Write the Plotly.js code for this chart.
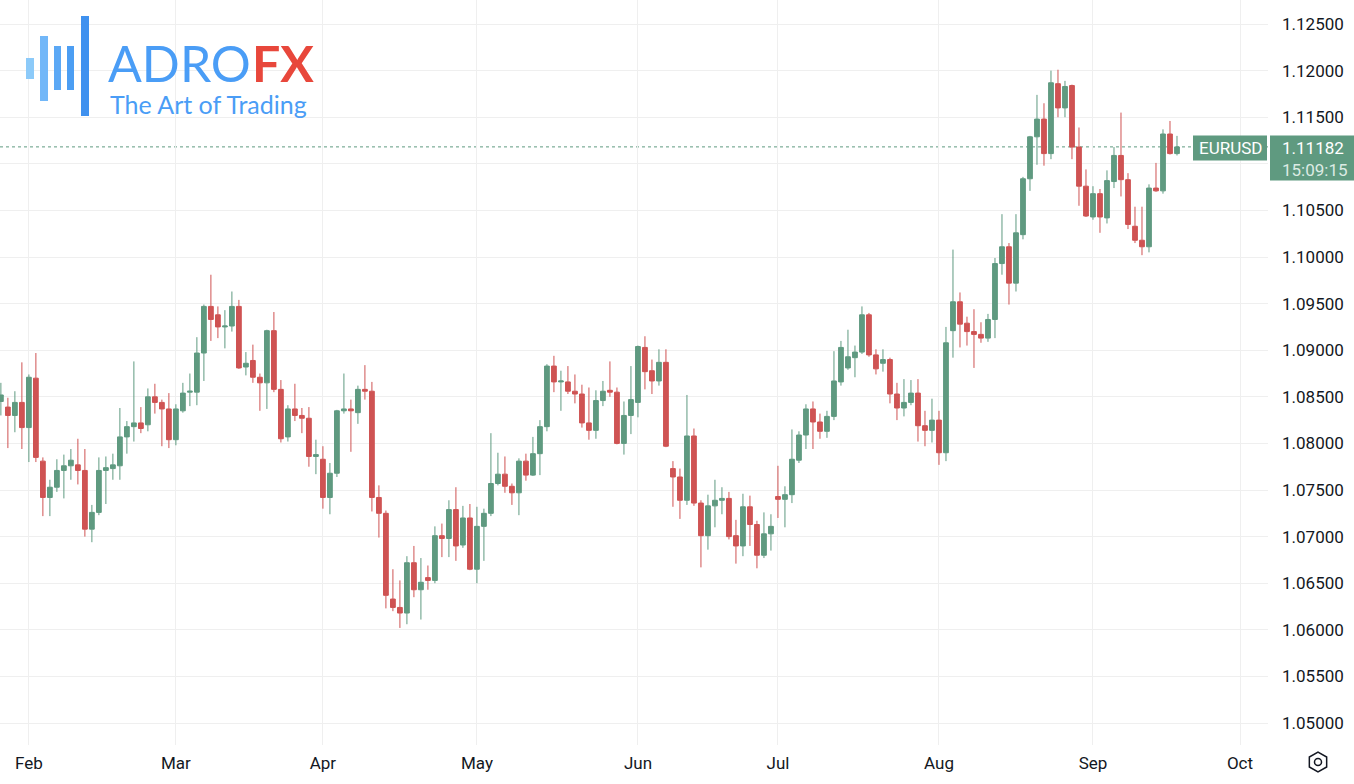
<!DOCTYPE html>
<html><head><meta charset="utf-8">
<script src="https://cdn.plot.ly/plotly-3.0.1.min.js"></script>
<style>html,body{margin:0;padding:0;background:#fff;}#chart{width:1354px;height:784px;}</style>
</head><body><div id="chart"></div>
<script>
// ---- data (EURUSD daily) ----
const dates = [
 '2024-01-26','2024-01-29','2024-01-30','2024-01-31',
 '2024-02-01','2024-02-02','2024-02-05','2024-02-06','2024-02-07','2024-02-08','2024-02-09','2024-02-12','2024-02-13','2024-02-14','2024-02-15','2024-02-16','2024-02-19','2024-02-20','2024-02-21','2024-02-22','2024-02-23','2024-02-26','2024-02-27','2024-02-28','2024-02-29',
 '2024-03-01','2024-03-04','2024-03-05','2024-03-06','2024-03-07','2024-03-08','2024-03-11','2024-03-12','2024-03-13','2024-03-14','2024-03-15','2024-03-18','2024-03-19','2024-03-20','2024-03-21','2024-03-22','2024-03-25','2024-03-26','2024-03-27','2024-03-28','2024-03-29',
 '2024-04-01','2024-04-02','2024-04-03','2024-04-04','2024-04-05','2024-04-08','2024-04-09','2024-04-10','2024-04-11','2024-04-12','2024-04-15','2024-04-16','2024-04-17','2024-04-18','2024-04-19','2024-04-22','2024-04-23','2024-04-24','2024-04-25','2024-04-26','2024-04-29','2024-04-30',
 '2024-05-01','2024-05-02','2024-05-03','2024-05-06','2024-05-07','2024-05-08','2024-05-09','2024-05-10','2024-05-13','2024-05-14','2024-05-15','2024-05-16','2024-05-17','2024-05-20','2024-05-21','2024-05-22','2024-05-23','2024-05-24','2024-05-27','2024-05-28','2024-05-29','2024-05-30','2024-05-31',
 '2024-06-03','2024-06-04','2024-06-05','2024-06-06','2024-06-07','2024-06-10','2024-06-11','2024-06-12','2024-06-13','2024-06-14','2024-06-17','2024-06-18','2024-06-19','2024-06-20','2024-06-21','2024-06-24','2024-06-25','2024-06-26','2024-06-27','2024-06-28',
 '2024-07-01','2024-07-02','2024-07-03','2024-07-04','2024-07-05','2024-07-08','2024-07-09','2024-07-10','2024-07-11','2024-07-12','2024-07-15','2024-07-16','2024-07-17','2024-07-18','2024-07-19','2024-07-22','2024-07-23','2024-07-24','2024-07-25','2024-07-26','2024-07-29','2024-07-30','2024-07-31',
 '2024-08-01','2024-08-02','2024-08-05','2024-08-06','2024-08-07','2024-08-08','2024-08-09','2024-08-12','2024-08-13','2024-08-14','2024-08-15','2024-08-16','2024-08-19','2024-08-20','2024-08-21','2024-08-22','2024-08-23','2024-08-26','2024-08-27','2024-08-28','2024-08-29','2024-08-30',
 '2024-09-02','2024-09-03','2024-09-04','2024-09-05','2024-09-06','2024-09-09','2024-09-10','2024-09-11','2024-09-12','2024-09-13','2024-09-16','2024-09-17','2024-09-18'
];
const open = [
 1.0845,1.0839,1.0830,1.0844,
 1.0817,1.0870,1.0781,1.0742,1.0753,1.0771,1.0776,1.0777,1.0771,1.0708,1.0726,1.0771,1.0773,1.0776,1.0807,1.0818,1.0822,1.0820,1.0850,1.0844,1.0837,
 1.0804,1.0835,1.0855,1.0855,1.0897,1.0947,1.0938,1.0925,1.0926,1.0947,1.0882,1.0889,1.0871,1.0865,1.0921,1.0858,1.0807,1.0837,1.0830,1.0827,1.0786,
 1.0783,1.0742,1.0768,1.0835,1.0837,1.0833,1.0858,1.0856,1.0742,1.0725,1.0633,1.0624,1.0618,1.0672,1.0643,1.0656,1.0653,1.0701,1.0698,1.0729,1.0691,1.0720,
 1.0665,1.0711,1.0725,1.0757,1.0767,1.0754,1.0747,1.0781,1.0766,1.0789,1.0818,1.0883,1.0866,1.0866,1.0856,1.0853,1.0822,1.0814,1.0846,1.0857,1.0855,1.0800,1.0830,
 1.0844,1.0903,1.0878,1.0867,1.0887,1.0773,1.0764,1.0739,1.0808,1.0736,1.0701,1.0733,1.0739,1.0741,1.0701,1.0690,1.0732,1.0713,1.0680,1.0703,
 1.0743,1.0740,1.0745,1.0782,1.0809,1.0837,1.0823,1.0813,1.0829,1.0866,1.0881,1.0892,1.0898,1.0938,1.0895,1.0886,1.0890,1.0853,1.0838,1.0844,1.0854,1.0819,1.0814,
 1.0825,1.0790,1.0921,1.0952,1.0929,1.0920,1.0917,1.0913,1.0933,1.0993,1.1011,1.0972,1.1024,1.1084,1.1129,1.1148,1.1111,1.1186,1.1160,1.1184,1.1118,1.1076,
 1.1043,1.1068,1.1042,1.1081,1.1109,1.1083,1.1033,1.1018,1.1011,1.1074,1.1071,1.1132,1.1111
];
const high = [
 1.0865,1.0849,1.0856,1.0887,
 1.0874,1.0897,1.0785,1.0761,1.0783,1.0788,1.0794,1.0805,1.0794,1.0734,1.0785,1.0786,1.0789,1.0838,1.0824,1.0888,1.0839,1.0859,1.0864,1.0847,1.0854,
 1.0842,1.0865,1.0875,1.0914,1.0949,1.0981,1.0947,1.0943,1.0963,1.0954,1.0898,1.0906,1.0875,1.0922,1.0941,1.0868,1.0841,1.0864,1.0838,1.0839,1.0804,
 1.0797,1.0779,1.0836,1.0875,1.0847,1.0862,1.0884,1.0866,1.0755,1.0728,1.0665,1.0653,1.0679,1.0690,1.0677,1.0669,1.0711,1.0714,1.0739,1.0753,1.0733,1.0735,
 1.0732,1.0730,1.0811,1.0790,1.0786,1.0757,1.0784,1.0789,1.0807,1.0825,1.0885,1.0894,1.0878,1.0883,1.0874,1.0863,1.0860,1.0857,1.0867,1.0888,1.0860,1.0845,1.0883,
 1.0905,1.0915,1.0890,1.0901,1.0901,1.0781,1.0773,1.0852,1.0816,1.0739,1.0745,1.0761,1.0753,1.0748,1.0718,1.0746,1.0744,1.0717,1.0726,1.0724,
 1.0776,1.0754,1.0815,1.0813,1.0842,1.0845,1.0832,1.0835,1.0899,1.0910,1.0922,1.0905,1.0947,1.0940,1.0901,1.0901,1.0892,1.0865,1.0869,1.0868,1.0869,1.0835,1.0848,
 1.0835,1.0925,1.1008,1.0962,1.0936,1.0944,1.0930,1.0939,1.0999,1.1046,1.1015,1.1046,1.1086,1.1130,1.1174,1.1165,1.1200,1.1201,1.1189,1.1185,1.1139,1.1094,
 1.1076,1.1073,1.1093,1.1118,1.1155,1.1090,1.1054,1.1054,1.1078,1.1101,1.1137,1.1146,1.1130
];
const low = [
 1.0830,1.0795,1.0812,1.0794,
 1.0780,1.0780,1.0722,1.0722,1.0748,1.0741,1.0761,1.0756,1.0700,1.0694,1.0723,1.0735,1.0761,1.0761,1.0789,1.0802,1.0811,1.0813,1.0832,1.0797,1.0795,
 1.0798,1.0833,1.0840,1.0841,1.0867,1.0910,1.0913,1.0902,1.0920,1.0880,1.0873,1.0865,1.0835,1.0837,1.0855,1.0801,1.0802,1.0824,1.0811,1.0775,1.0767,
 1.0730,1.0724,1.0764,1.0832,1.0791,1.0821,1.0847,1.0727,1.0699,1.0623,1.0620,1.0602,1.0606,1.0635,1.0611,1.0643,1.0650,1.0678,1.0678,1.0674,1.0688,1.0664,
 1.0650,1.0674,1.0722,1.0755,1.0747,1.0734,1.0723,1.0760,1.0765,1.0766,1.0813,1.0855,1.0835,1.0853,1.0843,1.0817,1.0804,1.0805,1.0840,1.0850,1.0799,1.0788,1.0810,
 1.0828,1.0858,1.0853,1.0862,1.0796,1.0732,1.0719,1.0734,1.0733,1.0667,1.0686,1.0710,1.0724,1.0697,1.0671,1.0679,1.0690,1.0666,1.0677,1.0685,
 1.0720,1.0710,1.0736,1.0779,1.0794,1.0794,1.0805,1.0806,1.0825,1.0862,1.0879,1.0871,1.0896,1.0893,1.0874,1.0877,1.0843,1.0825,1.0829,1.0841,1.0802,1.0797,1.0801,
 1.0777,1.0781,1.0892,1.0903,1.0905,1.0881,1.0908,1.0909,1.0913,1.0981,1.0949,1.0963,1.1019,1.1071,1.1099,1.1098,1.1105,1.1150,1.1150,1.1105,1.1055,1.1043,
 1.1040,1.1026,1.1036,1.1074,1.1065,1.1030,1.1015,1.1002,1.1005,1.1070,1.1068,1.1110,1.1109
];
const close = [
 1.0852,1.0830,1.0844,1.0817,
 1.0871,1.0785,1.0742,1.0753,1.0771,1.0776,1.0782,1.0771,1.0708,1.0726,1.0771,1.0774,1.0777,1.0807,1.0818,1.0822,1.0816,1.0850,1.0844,1.0837,1.0804,
 1.0837,1.0854,1.0856,1.0897,1.0947,1.0933,1.0925,1.0926,1.0947,1.0881,1.0886,1.0871,1.0865,1.0921,1.0858,1.0805,1.0837,1.0830,1.0827,1.0786,1.0788,
 1.0742,1.0768,1.0835,1.0837,1.0835,1.0858,1.0856,1.0742,1.0725,1.0637,1.0624,1.0618,1.0672,1.0643,1.0651,1.0653,1.0701,1.0698,1.0729,1.0690,1.0720,1.0665,
 1.0711,1.0725,1.0757,1.0767,1.0754,1.0747,1.0781,1.0766,1.0789,1.0818,1.0883,1.0866,1.0867,1.0856,1.0853,1.0822,1.0814,1.0846,1.0856,1.0855,1.0800,1.0830,1.0847,
 1.0904,1.0877,1.0867,1.0887,1.0797,1.0764,1.0739,1.0808,1.0736,1.0701,1.0733,1.0739,1.0741,1.0700,1.0690,1.0732,1.0713,1.0680,1.0703,1.0711,
 1.0740,1.0745,1.0783,1.0809,1.0837,1.0823,1.0813,1.0829,1.0867,1.0903,1.0893,1.0898,1.0938,1.0895,1.0880,1.0890,1.0853,1.0838,1.0844,1.0854,1.0819,1.0814,1.0825,
 1.0790,1.0908,1.0952,1.0928,1.0920,1.0917,1.0913,1.0933,1.0993,1.1011,1.0972,1.1026,1.1084,1.1129,1.1148,1.1111,1.1187,1.1160,1.1183,1.1118,1.1076,1.1044,
 1.1068,1.1043,1.1082,1.1109,1.1083,1.1035,1.1018,1.1011,1.1074,1.1071,1.1132,1.1111,1.11182
];
const monthTickDates  = ['2024-02-01','2024-03-01','2024-04-01','2024-05-01','2024-06-03','2024-07-01','2024-08-01','2024-09-02','2024-10-01'];
const monthTickLabels = ['Feb','Mar','Apr','May','Jun','Jul','Aug','Sep','Oct'];
const priceTicks = [1.05,1.055,1.06,1.065,1.07,1.075,1.08,1.085,1.09,1.095,1.10,1.105,1.11,1.115,1.12,1.125];
// 1.11000 sits under the last-price badge in the reference, so its label is not shown
const priceTickLabels = ['1.05000','1.05500','1.06000','1.06500','1.07000','1.07500','1.08000','1.08500','1.09000','1.09500','1.10000','1.10500','','1.11500','1.12000','1.12500'];
const symbolName = 'EURUSD';
const lastPrice = 1.11182;
const countdown = '15:09:15';
const logoWord = 'ADRO';
const logoWord2 = 'FX';
const logoTagline = 'The Art of Trading';

// ---- styling / layout helpers ----
const UP = '#5f9a80', DOWN = '#cf5353', GRID = '#efefef', TXT = '#131722';
const PW = 1268, PH = 745; // plot area in px (margins l=0,t=0)
const px = x => x / PW;
const py = y => 1 - y / PH;

const trace = {
  type: 'candlestick', x: dates, open: open, high: high, low: low, close: close,
  increasing: {line: {color: UP, width: 1}, fillcolor: UP},
  decreasing: {line: {color: DOWN, width: 1}, fillcolor: DOWN},
  whiskerwidth: 0, hoverinfo: 'skip', showlegend: false
};

const logoBars = [
  {x0: 26, x1: 34, y0: 58, y1: 79, c: '#8ccaf9'},
  {x0: 40, x1: 48, y0: 36, y1: 101, c: '#72b7f8'},
  {x0: 54, x1: 61, y0: 46, y1: 90, c: '#5ba8f5'},
  {x0: 67, x1: 74, y0: 46, y1: 90, c: '#4c9ef3'},
  {x0: 81, x1: 89, y0: 16, y1: 116, c: '#3f91ef'}
];

const shapes = [
  {type: 'line', xref: 'paper', yref: 'y', x0: 0, x1: 1, y0: lastPrice, y1: lastPrice,
   line: {color: UP, width: 1, dash: 'dot'}, layer: 'below'},
  // symbol label box
  {type: 'rect', xref: 'paper', yref: 'paper', x0: px(1193), x1: px(1267), y0: py(160.5), y1: py(135.5),
   fillcolor: UP, line: {width: 0}},
  // price label box
  {type: 'rect', xref: 'paper', yref: 'paper', x0: px(1270), x1: px(1354), y0: py(180.5), y1: py(135.5),
   fillcolor: UP, line: {width: 0}},
  // settings icon (bottom right)
  {type: 'path', xref: 'paper', yref: 'paper',
   path: (() => { const cx = 1318, cy = 762, r = 10; let s = '';
     for (let k = 0; k < 6; k++) { const a = Math.PI / 6 + k * Math.PI / 3;
       s += (k ? 'L' : 'M') + px(cx + r * Math.cos(a)) + ',' + py(cy + r * Math.sin(a)) + ' '; }
     return s + 'Z'; })(),
   line: {color: TXT, width: 1.5}},
  {type: 'circle', xref: 'paper', yref: 'paper', x0: px(1314.5), x1: px(1321.5), y0: py(765.5), y1: py(758.5),
   line: {color: TXT, width: 1.5}}
].concat(logoBars.map(b => ({type: 'rect', xref: 'paper', yref: 'paper',
   x0: px(b.x0), x1: px(b.x1), y0: py(b.y1), y1: py(b.y0), fillcolor: b.c, line: {width: 0}})));

const annotations = [
  {xref: 'paper', yref: 'paper', x: px(106), y: py(63), xanchor: 'left', yanchor: 'middle',
   text: logoWord, showarrow: false, font: {family: 'Lato', size: 50, color: '#4a9df6'}},
  {xref: 'paper', yref: 'paper', x: px(250), y: py(63), xanchor: 'left', yanchor: 'middle',
   text: logoWord2, showarrow: false, font: {family: 'Lato', size: 50, color: '#e8473b', weight: 700}},
  {xref: 'paper', yref: 'paper', x: px(108), y: py(104), xanchor: 'left', yanchor: 'middle',
   text: logoTagline, showarrow: false, font: {family: 'Lato', size: 25, color: '#4a9df6'}},
  {xref: 'paper', yref: 'paper', x: px(1230), y: py(148), xanchor: 'center', yanchor: 'middle',
   text: symbolName, showarrow: false, font: {family: 'Roboto', size: 17, color: '#ffffff'}},
  {xref: 'paper', yref: 'paper', x: px(1281), y: py(147.5), xanchor: 'left', yanchor: 'middle',
   text: lastPrice.toFixed(5), showarrow: false, borderpad: 0, font: {family: 'Roboto', size: 17, color: '#ffffff'}},
  {xref: 'paper', yref: 'paper', x: px(1281), y: py(170), xanchor: 'left', yanchor: 'middle',
   text: countdown, showarrow: false, borderpad: 0, font: {family: 'Roboto', size: 17, color: '#dcebe4'}}
];

const layout = {
  width: 1354, height: 784,
  margin: {l: 0, r: 86, t: 0, b: 39, pad: 0},
  paper_bgcolor: '#ffffff', plot_bgcolor: '#ffffff',
  showlegend: false, hovermode: false, dragmode: false,
  boxgap: 0.2, boxgroupgap: 0.15,
  xaxis: {
    type: 'date', range: ['2024-01-25 21:00', '2024-10-07 00:00'],
    rangebreaks: [{bounds: ['sat', 'mon']}],
    rangeslider: {visible: false},
    tickmode: 'array', tickvals: monthTickDates, ticktext: monthTickLabels,
    showgrid: true, gridcolor: GRID, gridwidth: 1, zeroline: false, showline: false,
    ticks: '', tickfont: {family: 'Roboto', size: 17, color: TXT}, ticklabelstandoff: 6
  },
  yaxis: {
    side: 'right', range: [1.04764, 1.12758], fixedrange: true,
    tickmode: 'array', tickvals: priceTicks, ticktext: priceTickLabels,
    showgrid: true, gridcolor: GRID, gridwidth: 1, zeroline: false, showline: false,
    ticks: '', tickfont: {family: 'Roboto', size: 17, color: TXT}, ticklabelstandoff: 13
  },
  shapes: shapes, annotations: annotations
};

Plotly.newPlot('chart', [trace], layout, {displayModeBar: false, staticPlot: true});
</script></body></html>
